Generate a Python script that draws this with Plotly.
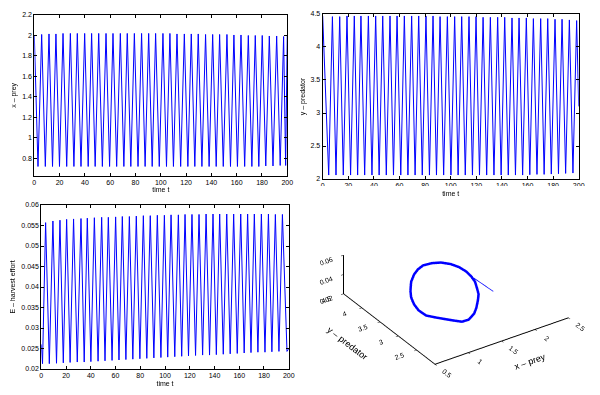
import plotly.graph_objects as go

# ---------------- data ----------------
# x - prey : turning points (peaks / troughs) of the oscillation
x_peak_t = [0, 5.8, 11.6, 17.1, 22.7, 28.5, 34.0, 39.8, 45.3, 50.9, 56.7, 62.2, 68.0, 73.5, 79.1, 84.8,
            90.4, 95.9, 101.7, 107.2, 112.8, 118.6, 124.1, 129.6, 135.4, 141.0, 146.5, 152.3, 157.8,
            163.4, 169.2, 174.7, 180.2, 185.8, 191.6, 197.1, 200]
x_peak = [2.0, 2.01, 2.015, 2.015, 2.02, 2.02, 2.02, 2.02, 2.02, 2.02, 2.02, 2.02, 2.02, 2.02, 2.02,
          2.02, 2.02, 2.02, 2.02, 2.02, 2.015, 2.015, 2.015, 2.015, 2.01, 2.01, 2.01, 2.01, 2.005,
          2.005, 2.0, 2.0, 2.0, 1.995, 1.995, 1.99, 2.0]
x_trough_t = [2.9, 8.7, 14.4, 19.9, 25.6, 31.3, 36.9, 42.6, 48.1, 53.8, 59.5, 65.1, 70.8, 76.3, 82.0,
              87.6, 93.2, 98.8, 104.5, 110.0, 115.7, 121.4, 126.9, 132.5, 138.2, 143.8, 149.4, 155.1,
              160.6, 166.3, 172.0, 177.5, 183.0, 188.7, 194.4, 198.7]
x_trough = [0.72, 0.72, 0.72, 0.72, 0.72, 0.72, 0.72, 0.72, 0.72, 0.72, 0.72, 0.72, 0.72, 0.72, 0.72,
            0.72, 0.72, 0.72, 0.72, 0.72, 0.72, 0.72, 0.72, 0.72, 0.72, 0.72, 0.72, 0.72, 0.72, 0.72,
            0.72, 0.72, 0.725, 0.725, 0.73, 0.73]

# y - predator
y_peak_t = [0, 7.6, 13.3, 19.0, 24.7, 29.9, 35.7, 41.4, 46.9, 52.6, 58.1, 63.8, 69.5, 75.0, 80.7,
            86.2, 91.7, 97.4, 103.1, 108.6, 114.3, 119.8, 125.3, 131.0, 136.7, 142.2, 147.9, 153.4,
            159.1, 164.6, 170.3, 175.8, 181.5, 187.0, 192.7, 198.4]
y_peak = [4.47, 4.46, 4.46, 4.47, 4.47, 4.47, 4.47, 4.47, 4.47, 4.47, 4.47, 4.47, 4.47, 4.47, 4.47,
          4.47, 4.46, 4.46, 4.46, 4.46, 4.46, 4.46, 4.45, 4.45, 4.45, 4.45, 4.44, 4.44, 4.44, 4.43,
          4.43, 4.43, 4.42, 4.42, 4.41, 4.40]
y_trough_t = [4.7, 10.4, 16.1, 21.8, 27.3, 32.8, 38.5, 44.1, 49.7, 55.3, 61.0, 66.6, 72.2, 77.8,
              83.4, 88.9, 94.5, 100.2, 105.8, 111.4, 117.0, 122.5, 128.1, 133.8, 139.4, 145.0,
              150.6, 156.2, 161.8, 167.4, 173.0, 178.6, 184.2, 189.8, 195.5, 200]
y_trough = [2.06, 2.06, 2.06, 2.06, 2.06, 2.06, 2.06, 2.06, 2.06, 2.06, 2.06, 2.06, 2.06, 2.06,
            2.06, 2.06, 2.06, 2.06, 2.06, 2.06, 2.06, 2.06, 2.06, 2.06, 2.06, 2.06, 2.06, 2.06,
            2.065, 2.07, 2.07, 2.075, 2.08, 2.085, 2.09, 3.1]

# E - harvest effort
E_peak_t = [3.5, 9.4, 15.1, 20.5, 26.1, 32.1, 37.2, 42.9, 48.8, 54.2, 60.1, 65.5, 71.2, 76.8, 82.5,
            88.1, 93.8, 99.5, 104.9, 110.8, 116.2, 121.8, 127.5, 133.2, 138.8, 144.2, 149.9, 155.5,
            161.2, 166.8, 172.2, 177.9, 183.6, 189.2, 194.9]
E_peak = [0.0557, 0.0561, 0.0563, 0.0565, 0.0566, 0.0567, 0.0568, 0.0569, 0.0570, 0.0570, 0.0571,
          0.0572, 0.0572, 0.0573, 0.0574, 0.0574, 0.0575, 0.0575, 0.0576, 0.0576, 0.0577, 0.0577,
          0.0577, 0.0578, 0.0578, 0.0578, 0.0578, 0.0578, 0.0578, 0.0578, 0.0578, 0.0578, 0.0578,
          0.0577, 0.0577]
E_trough_t = [0, 1.0, 6.5, 12.3, 17.8, 23.3, 29.1, 34.7, 40.1, 45.9, 51.5, 57.2, 62.8, 68.4, 74.0,
              79.7, 85.3, 91.0, 96.7, 102.2, 107.9, 113.5, 119.0, 124.7, 130.4, 136.0, 141.5, 147.1,
              152.7, 158.4, 164.0, 169.5, 175.1, 180.8, 186.4, 192.1, 198.6, 200]
E_trough = [0.026, 0.0213, 0.0213, 0.0214, 0.0215, 0.0216, 0.0217, 0.0217, 0.0218, 0.0219, 0.0220,
            0.0221, 0.0222, 0.0223, 0.0224, 0.0225, 0.0226, 0.0227, 0.0228, 0.0229, 0.0230, 0.0231,
            0.0232, 0.0233, 0.0234, 0.0234, 0.0235, 0.0236, 0.0237, 0.0238, 0.0239, 0.0240, 0.0241,
            0.0241, 0.0242, 0.0243, 0.0243, 0.0249]

# phase portrait (limit cycle) points and the transient tail
loop_x = [1.165, 1.266, 1.359, 1.427, 1.494, 1.579, 1.641, 1.681, 1.688, 1.664, 1.626, 1.568, 1.488,
          1.424, 1.336, 1.233, 1.155, 1.058, 1.013, 0.989, 0.968, 0.948, 0.931, 0.962, 1.034, 1.110, 1.165]
loop_y = [3.884, 4.050, 4.138, 4.157, 4.139, 4.048, 3.915, 3.725, 3.509, 3.276, 3.069, 2.856, 2.654,
          2.494, 2.352, 2.206, 2.126, 2.098, 2.198, 2.400, 2.607, 2.816, 3.032, 3.292, 3.547, 3.765, 3.884]
loop_E = [0.025, 0.027, 0.030, 0.033, 0.036, 0.039, 0.042, 0.045, 0.048, 0.051, 0.053, 0.055, 0.056,
          0.056, 0.056, 0.055, 0.053, 0.050, 0.046, 0.042, 0.038, 0.034, 0.030, 0.027, 0.024, 0.023, 0.025]
tail_x = [1.819, 1.626]
tail_y = [2.814, 3.069]
tail_E = [0.040, 0.053]

time_ticks = [0, 20, 40, 60, 80, 100, 120, 140, 160, 180, 200]


def merge(pt, pv, tt, tv):
    pts = sorted(list(zip(pt, pv)) + list(zip(tt, tv)))
    return [p[0] for p in pts], [p[1] for p in pts]


xt, xv = merge(x_peak_t, x_peak, x_trough_t, x_trough)
yt, yv = merge(y_peak_t, y_peak, y_trough_t, y_trough)
Et, Ev = merge(E_peak_t, E_peak, E_trough_t, E_trough)

BLUE = "#0000ff"
FONT = "Liberation Sans, Arial, Helvetica, sans-serif"

fig = go.Figure()
fig.add_trace(go.Scatter(x=xt, y=xv, mode="lines", line=dict(color=BLUE, width=1), xaxis="x", yaxis="y"))
fig.add_trace(go.Scatter(x=yt, y=yv, mode="lines", line=dict(color=BLUE, width=1), xaxis="x2", yaxis="y2"))
fig.add_trace(go.Scatter(x=Et, y=Ev, mode="lines", line=dict(color=BLUE, width=1), xaxis="x3", yaxis="y3"))
fig.add_trace(go.Scatter3d(x=loop_x, y=loop_y, z=loop_E, mode="lines",
                           line=dict(color=BLUE, width=5), scene="scene"))
fig.add_trace(go.Scatter3d(x=tail_x, y=tail_y, z=tail_E, mode="lines",
                           line=dict(color=BLUE, width=1.5), scene="scene"))


def xax(domain, anchor):
    return dict(domain=domain, anchor=anchor, range=[0, 200], tickvals=time_ticks, automargin=False,
                ticks="inside", ticklen=3, tickcolor="black", mirror="ticks", showline=True,
                linecolor="black", linewidth=1, showgrid=False, zeroline=False,
                tickfont=dict(size=7, color="black", family=FONT),
                title=dict(text="time t", font=dict(size=7, color="black", family=FONT), standoff=2))


def yax(domain, anchor, rng, dtick, title):
    return dict(domain=domain, anchor=anchor, range=rng, dtick=dtick, tick0=0, automargin=False,
                ticks="inside", ticklen=3, tickcolor="black", mirror="ticks", showline=True,
                linecolor="black", linewidth=1, showgrid=False, zeroline=False,
                tickfont=dict(size=7, color="black", family=FONT),
                title=dict(text=title, font=dict(size=7, color="black", family=FONT), standoff=4))


ax3 = dict(showgrid=False, showbackground=False, showline=True, linecolor="black", linewidth=2,
           zeroline=False, ticks="outside", tickcolor="black", ticklen=3, showspikes=False,
           tickfont=dict(size=9, color="black", family=FONT))

d = (-0.477, -0.710, 0.518)
r = 1.2
k = 1.6

fig.update_layout(
    width=600, height=395, margin=dict(l=0, r=0, t=0, b=0),
    paper_bgcolor="white", plot_bgcolor="white", showlegend=False,
    font=dict(family=FONT, color="black", size=7),
    xaxis=xax([0.0572, 0.4788], "y"),
    yaxis=yax([0.5552, 0.962], "x", [0.63, 2.2], 0.2, "x – prey"),
    xaxis2=xax([0.5378, 0.9645], "y2"),
    yaxis2=yax([0.5468, 0.9646], "x2", [2, 4.5], 0.5, "y – predator"),
    xaxis3=xax([0.0688, 0.4812], "y3"),
    yaxis3=yax([0.0658, 0.481], "x3", [0.02, 0.06], 0.005, "E – harvest effort"),
    scene=dict(
        domain=dict(x=[0.53, 0.99], y=[0.02, 0.53]),
        xaxis=dict(ax3, range=[0.5, 2.5], tickvals=[0.5, 1, 1.5, 2, 2.5],
                   title=dict(text="x – prey", font=dict(size=9, family=FONT))),
        yaxis=dict(ax3, range=[2, 4.5], tickvals=[2.5, 3, 3.5, 4, 4.5],
                   title=dict(text="y – predator", font=dict(size=9, family=FONT))),
        zaxis=dict(ax3, range=[0.02, 0.06], tickvals=[0.02, 0.04, 0.06],
                   title=dict(text="E – harvest effort", font=dict(size=9, family=FONT))),
        aspectmode="manual", aspectratio=dict(x=1 * k, y=1.02 * k, z=0.28 * k),
        camera=dict(eye=dict(x=d[0] * r, y=d[1] * r, z=d[2] * r), up=dict(x=0, y=0, z=1),
                    center=dict(x=0, y=0, z=0), projection=dict(type="orthographic")),
        bgcolor="white",
    ),
)

fig.write_html("out.html", config={"displayModeBar": False},
               post_script="document.body.style.margin='0';document.body.style.padding='0';")
